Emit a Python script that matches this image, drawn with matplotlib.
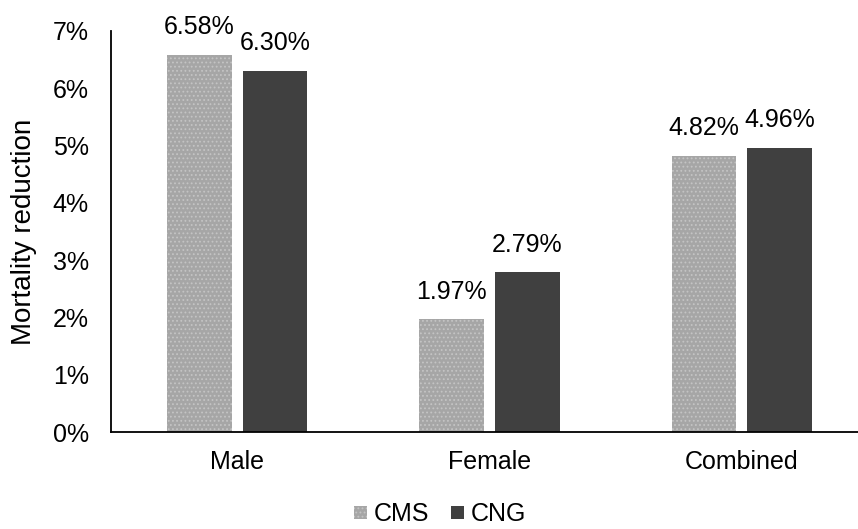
import matplotlib
matplotlib.use("Agg")
import matplotlib.pyplot as plt
import numpy as np
from matplotlib.patches import Patch

plt.rcParams['font.family'] = ['Liberation Sans', 'DejaVu Sans']

categories = ["Male", "Female", "Combined"]
cms_values = [6.58, 1.97, 4.82]
cng_values = [6.30, 2.79, 4.96]
series_names = ["CMS", "CNG"]

W, H = 858, 529
FS = 18
fig = plt.figure(figsize=(W / 100, H / 100), dpi=100)
ax = fig.add_axes([111 / W, 1 - 432 / H, 757 / W, (432 - 31) / H])

x = np.arange(len(categories))
bw = 0.257
off = 0.15

plt.rcParams['hatch.linewidth'] = 0.8
ax.bar(x - off, cms_values, bw, color="#a6a6a6", edgecolor="#c4c4c4",
       linewidth=0, hatch="....")
ax.bar(x + off, cng_values, bw, color="#404040", linewidth=0)

for xi, v in zip(x - off, cms_values):
    ax.text(xi, v + 0.36, f"{v:.2f}%", ha="center", va="baseline", fontsize=FS)
for xi, v in zip(x + off, cng_values):
    ax.text(xi, v + 0.36, f"{v:.2f}%", ha="center", va="baseline", fontsize=FS)

ax.set_xlim(-0.5, 2.5)
ax.set_ylim(0, 7)
ax.set_yticks(range(0, 8))
ax.set_yticklabels([f"{i}%" for i in range(0, 8)], fontsize=FS)
ax.set_xticks(x)
ax.set_xticklabels(categories, fontsize=FS)
ax.tick_params(axis="y", length=0, pad=16)
ax.tick_params(axis="x", length=0, pad=13)
for s in ["top", "right"]:
    ax.spines[s].set_visible(False)
for s in ["left", "bottom"]:
    ax.spines[s].set_linewidth(1.3)
    ax.spines[s].set_color("black")
ax.set_ylabel("Mortality reduction", fontsize=20)
ax.yaxis.set_label_coords(-74 / 757, 0.5)

handles = [Patch(facecolor="#a6a6a6", edgecolor="#c4c4c4", linewidth=0, hatch="...."),
           Patch(facecolor="#404040", linewidth=0)]
fig.legend(handles, series_names, loc="center", bbox_to_anchor=(440 / W, 1 - 514 / H),
           ncol=2, frameon=False, fontsize=FS, handlelength=0.52, handleheight=0.42,
           handletextpad=0.28, columnspacing=0.84, borderpad=0.1)

fig.savefig("out.png", dpi=100)
